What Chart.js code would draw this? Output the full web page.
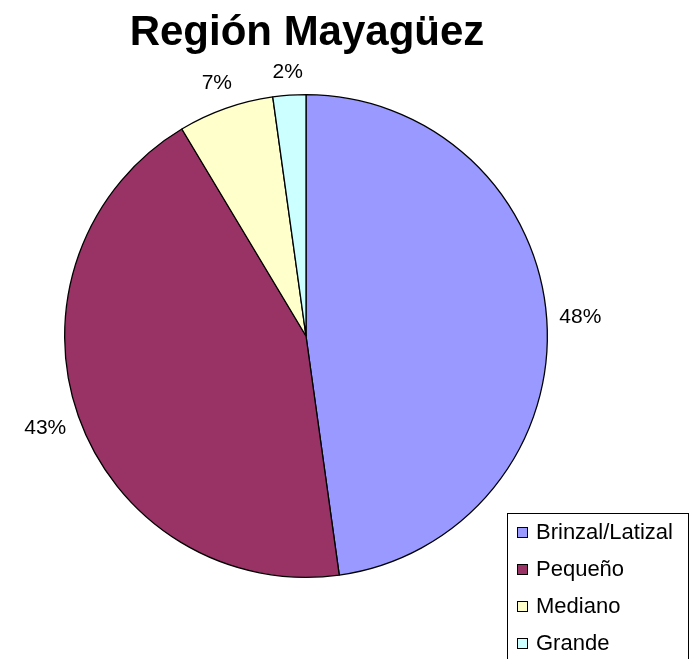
<!DOCTYPE html>
<html>
<head>
<meta charset="utf-8">
<script src="https://cdn.jsdelivr.net/npm/chart.js@4/dist/chart.umd.min.js"></script>
<style>
  html, body { margin: 0; padding: 0; background: #fff; }
  #wrap { width: 698px; height: 659px; }
</style>
</head>
<body>
<div id="wrap"><canvas id="myChart" width="698" height="659"></canvas></div>
<script>
const titulo = 'Región Mayagüez';
const categorias = ['Brinzal/Latizal', 'Pequeño', 'Mediano', 'Grande'];
const porcentajes = [47.8, 43.6, 6.4, 2.2];
const etiquetas = ['48%', '43%', '7%', '2%'];
const colores = ['#9999FF', '#993366', '#FFFFCC', '#CCFFFF'];

const FUENTE = '"Liberation Sans", Arial, sans-serif';

// titulo, porcentajes y leyenda dibujados a mano (estilo Excel)
const extras = {
    id: 'extras',
    afterDraw(chart) {
        const ctx = chart.ctx;
        ctx.save();
        ctx.fillStyle = '#000';
        ctx.font = 'bold 42px ' + FUENTE;
        ctx.textAlign = 'center';
        ctx.textBaseline = 'middle';
        ctx.fillText(titulo, 307, 33);

        // etiquetas de porcentaje fuera del pastel
        ctx.font = '21px ' + FUENTE;
        const meta = chart.getDatasetMeta(0);
        meta.data.forEach((arc, i) => {
            const p = arc.getProps(['x', 'y', 'startAngle', 'endAngle', 'outerRadius'], true);
            const a = (p.startAngle + p.endAngle) / 2;
            const w = ctx.measureText(etiquetas[i]).width;
            const h = 20;
            const d = p.outerRadius + 12 + Math.abs(Math.cos(a)) * w / 2 + Math.abs(Math.sin(a)) * h / 2;
            ctx.fillText(etiquetas[i], p.x + Math.cos(a) * d, p.y + Math.sin(a) * d);
        });

        // leyenda con recuadro
        const lx = 507, ly = 513, lw = 181, lh = 160;
        ctx.strokeStyle = '#000';
        ctx.lineWidth = 1;
        ctx.strokeRect(lx + 0.5, ly + 0.5, lw, lh);
        ctx.textAlign = 'left';
        ctx.font = '22px ' + FUENTE;
        categorias.forEach((c, i) => {
            const cy = 532 + i * 37;
            ctx.fillStyle = colores[i];
            ctx.fillRect(517, cy - 5, 11, 11);
            ctx.strokeRect(517.5, cy - 4.5, 10, 10);
            ctx.fillStyle = '#000';
            ctx.fillText(c, 536, cy + 1);
        });
        ctx.restore();
    }
};

const ctx = document.getElementById('myChart').getContext('2d');
const myChart = new Chart(ctx, {
    type: 'pie',
    data: {
        labels: categorias,
        datasets: [{
            data: porcentajes,
            backgroundColor: colores,
            borderColor: '#000',
            borderWidth: 1.3
        }]
    },
    options: {
        responsive: false,
        animation: false,
        layout: {
            padding: { left: 64, right: 150, top: 94, bottom: 81 }
        },
        plugins: {
            legend: { display: false },
            title: { display: false },
            tooltip: { enabled: false }
        }
    },
    plugins: [extras]
});
</script>
</body>
</html>
